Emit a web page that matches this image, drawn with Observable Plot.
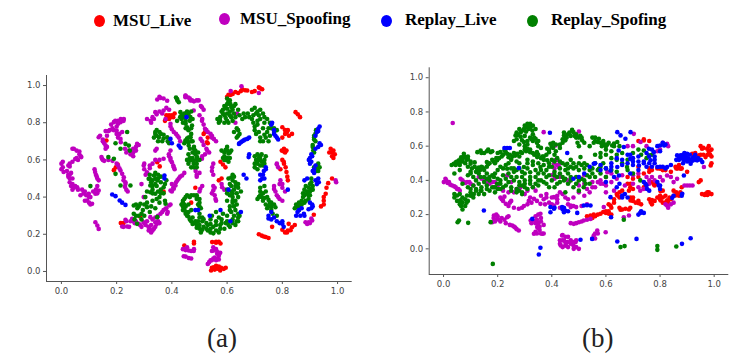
<!DOCTYPE html>
<html><head><meta charset="utf-8">
<script src="https://cdn.jsdelivr.net/npm/d3@7"></script>
<script src="https://cdn.jsdelivr.net/npm/@observablehq/plot@0.6"></script>
<style>
html,body{margin:0;padding:0;background:#fff;width:747px;height:364px;overflow:hidden}
.abs{position:absolute}
.lg{position:absolute;font:bold 17px "Liberation Serif",serif;color:#000;line-height:20px;white-space:nowrap}
.dot{position:absolute;width:11px;height:12px;border-radius:50%}
.cap{position:absolute;font:27px "Liberation Serif",serif;color:#222;line-height:30px}
</style></head><body>
<div id="root"></div>
<script>
const seriesNames = ["MSU_Live","MSU_Spoofing","Replay_Live","Replay_Spofing"];
const seriesColors = ["#ff0000","#bf00bf","#0000ff","#008000"];
const tickValues = [0,0.2,0.4,0.6,0.8,1];

const a_msuLive = [.6,.94,.613,.95,.63,.965,.64,.96,.655,.98,.665,.975,.673,.973,.69,.965,.715,.99,.727,.98,.385,.83,.39,.84,.395,.83,.4,.84,.39,.82,.38,.82,.163,.704,.19,.545,.197,.56,.204,.575,.347,.588,.356,.565,.848,.857,.856,.845,.864,.83,.817,.75,.8,.776,.824,.73,.81,.74,.806,.66,.798,.65,.815,.65,.806,.645,.98,.64,.985,.65,.98,.62,.99,.63,.975,.66,.8,.6,.806,.58,.812,.56,.815,.535,.818,.51,.793,.55,.98,.5,.966,.475,.957,.418,.95,.4,.95,.36,.94,.35,.576,.59,.585,.575,.594,.56,.57,.49,.58,.5,.52,.75,.527,.695,.515,.74,.485,.45,.715,.2,.725,.193,.733,.188,.75,.18,.8,.224,.817,.21,.835,.238,.823,.256,.83,.222,.914,.305,.763,.24,.546,.158,.56,.155,.576,.15,.445,.14,.48,.15,.48,.16,.552,.023,.57,.027,.588,.014,.542,.005,.555,.01,.565,.015,.578,.02,.285,.295,.215,.26,.225,.26,.37,.43,.47,.37,
.605,.95,.62,.955,.65,.97,.7,.97,.72,.985,.38,.84,.41,.85,.375,.81,.405,.83,.81,.76,.8,.72,.82,.76,.835,.74,.81,.64,.985,.61,.97,.64,.805,.59,.82,.49,.96,.45,.95,.38,.53,.69,.53,.72,.56,.16,.57,.16,.74,.185,.845,.25,.81,.21,.55,.015,.56,.03,.575,.005,.595,.02,.545,.02,.82,.22];
const a_msuSpoof = [0,.58,.005,.56,.03,.58,.025,.57,.04,.66,.055,.65,.065,.63,.07,.62,.06,.6,.05,.605,.02,.54,.035,.53,.03,.5,.04,.47,.035,.46,.12,.55,.125,.52,.13,.5,.145,.615,.15,.6,.2,.58,.214,.543,.226,.507,.232,.47,.057,.453,.075,.44,.069,.41,.085,.43,.099,.418,.123,.418,.135,.435,.093,.382,.111,.364,.105,.4,.123,.265,.13,.247,.135,.229,.214,.803,.19,.803,.226,.82,.2,.78,.205,.81,.16,.755,.175,.76,.2,.758,.214,.713,.135,.722,.16,.677,.15,.7,.22,.75,.274,.686,.256,.633,.244,.65,.26,.66,.147,.606,.232,.278,.22,.242,.238,.242,.256,.283,.28,.256,.298,.265,.27,.27,.316,.22,.335,.23,.325,.25,.322,.292,.34,.265,.35,.27,.359,.31,.377,.337,.39,.355,.383,.31,.395,.435,.413,.462,.298,.4,.29,.47,.232,.48,.359,.933,.347,.925,.449,.946,.46,.935,.473,.92,.383,.918,.34,.857,.323,.81,.335,.82,.37,.866,.395,.794,.407,.75,.425,.72,.377,.82,.34,.65,.389,.63,.4,.588,.407,.56,.395,.61,.298,.57,.31,.534,.33,.58,.32,.555,.37,.606,.437,.516,.42,.49,.407,.445,.449,.937,.467,.92,.497,.92,.509,.883,.479,.866,.509,.81,.52,.767,.54,.74,.552,.713,.504,.713,.528,.65,.509,.606,.486,.54,.636,.85,.63,.8,.546,.56,.55,.46,.55,.436,.558,.39,.582,.453,.503,.445,.49,.52,.652,.996,.613,.97,.715,.96,.8,.47,.77,.444,.785,.4,.793,.49,.78,.575,.993,.49,.896,.265,.908,.274,.884,.265,.461,.113,.449,.122,.479,.11,.443,.082,.461,.072,.552,.113,.564,.095,.54,.06,.564,.068,.55,.07,.535,.05,.55,.13,
.005,.59,0,.55,.008,.535,.03,.565,.04,.59,.045,.66,.065,.645,.072,.615,.055,.61,.025,.52,.03,.52,.03,.48,.04,.5,.045,.45,.025,.51,.04,.44,.05,.46,.06,.44,.08,.42,.09,.41,.1,.4,.085,.38,.1,.37,.105,.36,.115,.43,.125,.44,.13,.42,.13,.46,.122,.535,.128,.51,.135,.49,.155,.595,.17,.6,.185,.595,.205,.57,.21,.555,.22,.525,.225,.49,.23,.455,.235,.44,.24,.43,.225,.81,.215,.82,.205,.795,.195,.81,.18,.79,.185,.77,.17,.755,.19,.76,.21,.74,.2,.74,.215,.695,.205,.72,.165,.73,.15,.71,.14,.73,.155,.69,.165,.67,.16,.66,.26,.64,.27,.65,.27,.67,.28,.68,.25,.63,.26,.62,.235,.64,.23,.66,.235,.27,.225,.24,.245,.24,.25,.27,.26,.27,.265,.26,.285,.25,.29,.24,.3,.26,.31,.27,.305,.25,.315,.24,.32,.23,.33,.22,.325,.21,.34,.24,.345,.255,.355,.26,.33,.28,.34,.29,.35,.3,.365,.32,.37,.33,.38,.34,.385,.32,.395,.36,.4,.43,.405,.45,.4,.47,.415,.48,.425,.5,.43,.51,.445,.53,.355,.94,.37,.93,.365,.85,.355,.86,.345,.845,.33,.83,.325,.8,.31,.82,.38,.88,.39,.87,.395,.78,.4,.765,.415,.74,.42,.73,.43,.7,.345,.66,.395,.65,.39,.62,.395,.6,.405,.57,.41,.55,.3,.58,.3,.55,.305,.52,.32,.57,.34,.6,.355,.6,.45,.945,.465,.93,.48,.915,.49,.92,.505,.89,.515,.87,.5,.84,.51,.82,.515,.79,.525,.76,.53,.75,.545,.73,.545,.72,.56,.7,.51,.7,.515,.68,.525,.66,.535,.64,.52,.63,.51,.62,.5,.53,.49,.51,.545,.54,.55,.58,.55,.52,.555,.45,.545,.42,.555,.41,.56,.38,.59,.44,.58,.47,.51,.46,.5,.43,.79,.47,.8,.45,.81,.43,.77,.46,.775,.43,.78,.41,.79,.39,.8,.38,.78,.58,.785,.56,.995,.48,.89,.255,.9,.26,.905,.285,.47,.11,.455,.13,.44,.12,.45,.115,.48,.12,.45,.08,.47,.07,.545,.11,.56,.12,.565,.105,.57,.085,.555,.075,.545,.06,.56,.06,.53,.04,.57,.065,.575,.1];
const a_replayLive = [.453,.83,.4,.69,.425,.677,.431,.665,.395,.713,.373,.516,.373,.5,.184,.414,.196,.405,.211,.382,.232,.358,.22,.37,.485,.33,.643,.686,.65,.695,.66,.705,.673,.713,.68,.63,.678,.615,.763,.8,.77,.74,.775,.73,.733,.54,.74,.56,.727,.5,.72,.52,.93,.767,.925,.75,.935,.78,.93,.67,.94,.68,.908,.62,.896,.6,.905,.59,.915,.55,.92,.57,.932,.48,.925,.47,.89,.5,.75,.3,.76,.32,.78,.27,.77,.29,.8,.256,.855,.32,.865,.3,.878,.31,.908,.36,.905,.34,.537,.3,.576,.33,.612,.27,.65,.32,.495,.33,.82,.44,.605,.44,
.645,.69,.655,.7,.665,.71,.68,.72,.76,.79,.77,.76,.78,.72,.785,.71,.74,.55,.73,.52,.735,.5,.72,.49,.93,.755,.92,.73,.935,.69,.92,.66,.9,.61,.905,.63,.9,.58,.915,.53,.91,.54,.93,.5,.92,.49,.88,.49,.75,.285,.76,.28,.79,.26,.8,.27,.805,.24,.86,.33,.87,.34,.85,.3,.88,.3,.895,.335,.9,.37,.91,.35,.66,.52,.67,.5];
const a_replaySpoof = [.17,.615,.19,.606,.196,.525,.238,.75,.196,.69,.232,.686,.244,.677,.214,.66,.248,.65,.34,.75,.353,.722,.36,.74,.37,.715,.345,.73,.383,.722,.316,.498,.335,.516,.347,.49,.322,.462,.36,.51,.34,.47,.33,.44,.419,.928,.449,.838,.431,.857,.467,.83,.44,.83,.46,.85,.45,.81,.467,.722,.46,.695,.479,.66,.479,.597,.49,.579,.419,.81,.47,.74,.475,.7,.455,.715,.262,.355,.286,.364,.304,.4,.262,.31,.274,.256,.29,.31,.322,.426,.328,.462,.34,.418,.37,.453,.377,.364,.31,.346,.347,.292,.25,.462,.214,.462,.105,.459,.449,.704,.467,.722,.461,.677,.485,.65,.491,.615,.467,.597,.479,.579,.443,.83,.455,.776,.473,.785,.585,.87,.6,.9,.612,.9,.595,.88,.6,.85,.62,.87,.615,.83,.59,.84,.61,.86,.575,.81,.6,.81,.63,.9,.625,.75,.635,.77,.64,.73,.69,.87,.7,.88,.71,.86,.695,.84,.72,.82,.735,.8,.75,.77,.77,.75,.76,.79,.745,.75,.73,.77,.71,.79,.7,.78,.72,.72,.715,.75,.74,.72,.75,.7,.6,.65,.59,.62,.61,.61,.615,.65,.58,.65,.595,.6,.605,.59,.715,.6,.72,.62,.7,.58,.72,.57,.735,.58,.71,.55,.74,.62,.725,.59,.62,.49,.61,.47,.63,.46,.6,.44,.615,.43,.64,.45,.62,.4,.6,.38,.63,.38,.64,.4,.62,.37,.65,.43,.72,.41,.71,.39,.73,.38,.745,.4,.76,.37,.75,.35,.76,.33,.74,.36,.775,.345,.78,.3,.44,.38,.45,.4,.47,.41,.49,.4,.5,.37,.505,.34,.49,.39,.44,.35,.45,.32,.46,.36,.455,.3,.465,.28,.48,.26,.5,.25,.51,.29,.5,.31,.47,.33,.49,.235,.51,.225,.53,.22,.55,.205,.57,.21,.53,.25,.55,.24,.56,.27,.54,.28,.58,.26,.59,.23,.61,.24,.63,.25,.62,.28,.6,.3,.64,.29,.61,.35,.63,.33,.64,.31,.545,.3,.56,.32,.585,.31,.915,.71,.92,.74,.91,.68,.912,.65,.922,.76,.92,.56,.93,.58,.925,.54,.896,.45,.89,.43,.905,.48,.88,.44,.91,.46,.885,.38,.87,.36,.85,.36,.86,.33,.89,.42,.875,.4,.845,.34,.9,.41,.72,.45,.735,.46,.74,.43,
.59,.89,.605,.915,.615,.885,.625,.89,.6,.875,.585,.85,.575,.83,.58,.86,.595,.825,.61,.84,.625,.85,.64,.87,.605,.8,.62,.81,.63,.83,.59,.8,.57,.8,.565,.82,.6,.93,.61,.92,.68,.83,.69,.82,.705,.85,.715,.84,.72,.87,.73,.85,.735,.83,.745,.82,.755,.8,.76,.77,.77,.77,.78,.76,.71,.81,.695,.8,.7,.76,.705,.74,.72,.7,.73,.7,.735,.735,.755,.73,.645,.84,.655,.82,.66,.85,.665,.83,.675,.85,.64,.76,.645,.74,.635,.72,.6,.67,.59,.64,.605,.635,.595,.655,.61,.64,.585,.61,.6,.61,.59,.6,.7,.62,.71,.63,.725,.63,.705,.6,.735,.6,.72,.6,.71,.58,.73,.57,.7,.56,.715,.61,.62,.52,.615,.505,.605,.5,.625,.51,.615,.46,.6,.42,.61,.41,.625,.44,.635,.42,.62,.42,.63,.48,.64,.47,.72,.43,.73,.42,.715,.4,.725,.4,.735,.395,.75,.385,.76,.35,.755,.37,.77,.36,.765,.31,.745,.34,.44,.37,.445,.36,.435,.36,.445,.39,.455,.41,.465,.4,.48,.41,.49,.41,.5,.39,.495,.36,.5,.35,.445,.335,.45,.35,.44,.33,.45,.31,.46,.295,.47,.27,.475,.29,.46,.32,.475,.255,.49,.25,.485,.27,.495,.27,.51,.27,.515,.28,.5,.29,.5,.23,.515,.24,.525,.23,.54,.21,.54,.23,.56,.22,.575,.23,.56,.25,.575,.25,.58,.28,.57,.29,.595,.26,.6,.27,.605,.25,.62,.26,.635,.27,.64,.27,.625,.3,.615,.32,.61,.33,.625,.35,.635,.36,.62,.38,.645,.3,.54,.255,.525,.26,.505,.21,.435,.84,.445,.85,.455,.86,.46,.84,.475,.82,.465,.81,.45,.795,.44,.8,.435,.82,.47,.86,.43,.83,.42,.92,.425,.91,.415,.935,.45,.77,.46,.76,.47,.77,.34,.74,.345,.76,.355,.75,.35,.7,.365,.7,.37,.735,.385,.7,.39,.69,.335,.72,.455,.7,.445,.69,.46,.72,.47,.7,.48,.67,.465,.66,.475,.64,.485,.63,.49,.6,.475,.61,.46,.58,.47,.56,.48,.56,.465,.61,.49,.56,.5,.6,.455,.6,.495,.64,.46,.63,.32,.5,.33,.49,.34,.5,.35,.5,.325,.48,.33,.46,.345,.46,.36,.48,.35,.52,.34,.53,.32,.52,.33,.42,.35,.43,.36,.44,.375,.47,.38,.49,.36,.42,.355,.4,.31,.43,.37,.42,.345,.39,.33,.38,.31,.37,.3,.36,.28,.35,.27,.36,.275,.34,.295,.33,.28,.3,.29,.28,.265,.28,.27,.3,.325,.35,.34,.34,.32,.32,.3,.3,.355,.37,.375,.38,.915,.72,.92,.7,.91,.67,.915,.64,.915,.73,.925,.57,.935,.56,.915,.56,.93,.54,.925,.55,.9,.47,.905,.44,.895,.41,.88,.41,.875,.42,.87,.38,.86,.37,.85,.345,.86,.35,.88,.37,.895,.39,.91,.44,.905,.5,.9,.43,.885,.46];

const b_msuLive = [.955,.585,.974,.585,.98,.57,.985,.55,.944,.546,.968,.536,.95,.6,.919,.556,.857,.48,.865,.47,.876,.468,.987,.487,.99,.5,.943,.39,.95,.4,.691,.38,.778,.38,.74,.633,.8,.468,.81,.46,.968,.322,.98,.322,.975,.33,.99,.32,.864,.322,.87,.31,.802,.283,.81,.27,.765,.273,.77,.285,.826,.283,.835,.3,.79,.3,.721,.267,.654,.228,.672,.234,.685,.23,.611,.205,.6,.22,.58,.205,.59,.215,.543,.195,.555,.2,.617,.253,.691,.283,.7,.28,.642,.312,.65,.3,.685,.34,.777,.376,.802,.337,.857,.312,.85,.34,.72,.48,.76,.45,.9,.45,.88,.36,.63,.27,.74,.36,.68,.42,
.96,.59,.98,.6,.985,.575,.99,.58,.96,.55,.95,.55,.94,.53,.93,.56,.975,.55,.99,.54,.86,.47,.87,.49,.88,.47,.98,.33,.965,.315,.975,.315,.955,.32,.86,.33,.875,.33,.85,.31,.8,.29,.81,.3,.82,.27,.83,.27,.84,.29,.77,.26,.78,.28,.76,.29,.72,.28,.73,.26,.66,.23,.65,.24,.69,.24,.6,.21,.61,.22,.62,.2,.57,.2,.56,.19,.55,.18,.53,.19,.7,.35,.69,.36,.64,.32,.65,.33,.66,.34,.63,.29,.62,.24,.61,.26,.69,.3,.7,.3,.71,.27,.78,.37,.79,.38,.77,.39,.81,.34,.82,.31,.8,.31,.76,.47,.77,.46,.79,.47,.82,.46,.74,.44,.72,.42,.7,.41,.68,.38,.84,.45,.76,.63,.74,.64,.72,.63];
const b_msuSpoof = [.034,.735,.37,.682,.007,.409,.001,.39,.015,.385,.032,.37,.045,.36,.06,.34,.063,.409,.075,.39,.087,.39,.1,.38,.13,.42,.15,.4,.17,.38,.19,.39,.235,.429,.25,.39,.284,.36,.27,.35,.31,.34,.33,.36,.408,.497,.414,.604,.426,.478,.408,.439,.42,.52,.21,.3,.22,.28,.23,.263,.245,.27,.278,.234,.297,.25,.315,.28,.334,.292,.358,.263,.37,.29,.39,.27,.408,.302,.43,.33,.45,.3,.186,.195,.198,.175,.215,.18,.235,.185,.18,.156,.254,.136,.265,.125,.278,.107,.322,.166,.34,.19,.358,.205,.35,.15,.346,.127,.334,.088,.365,.088,.355,.11,.438,.078,.433,.02,.457,.039,.452,.02,.43,.05,.445,.049,.488,.04,.481,0,.45,.02,.47,.244,.408,.253,.49,.244,.47,.253,.481,.146,.5,.155,.518,.166,.543,.175,.555,.078,.568,.107,.599,.097,.592,.244,.666,.185,.685,.195,.727,.34,.826,.253,.9,.37,.5,.686,.703,.672,.728,.624,.826,.614,.8,.42,.826,.429,.863,.409,.605,.448,.494,.38,.463,.39,.74,.35,.962,.478,.58,.38,.62,.44,.52,.43,.55,.36,.75,.42,.7,.6,
.01,.4,.02,.39,.025,.375,.04,.365,.05,.35,.055,.35,.07,.4,.08,.385,.095,.39,.11,.37,.14,.41,.16,.39,.18,.39,.2,.37,.22,.34,.24,.33,.26,.33,.28,.35,.3,.32,.32,.3,.34,.34,.36,.31,.38,.32,.4,.3,.42,.31,.44,.32,.46,.29,.48,.3,.5,.33,.52,.31,.54,.33,.56,.36,.58,.4,.6,.42,.215,.29,.225,.305,.25,.28,.24,.25,.26,.24,.29,.24,.31,.26,.325,.27,.345,.28,.375,.26,.38,.3,.4,.26,.42,.29,.195,.2,.2,.19,.21,.16,.225,.17,.24,.19,.23,.15,.185,.18,.19,.16,.205,.17,.245,.14,.26,.13,.27,.115,.33,.165,.325,.15,.34,.15,.345,.17,.35,.2,.36,.18,.36,.16,.37,.14,.35,.12,.34,.1,.345,.09,.36,.09,.37,.09,.355,.13,.44,.08,.45,.07,.46,.07,.47,.05,.44,.05,.45,.04,.47,.03,.48,.02,.46,.01,.44,.01,.43,.03,.48,.04,.49,.01,.5,0,.49,.05,.47,.15,.49,.15,.51,.16,.53,.17,.56,.09,.57,.09,.55,.06,.56,.06,.46,.26,.48,.25,.51,.25,.42,.27,.43,.24,.53,.26,.6,.33,.63,.34,.67,.37,.7,.38,.72,.36,.76,.38,.78,.4,.81,.4,.84,.42,.85,.39,.82,.26,.83,.24,.84,.26,.85,.27,.89,.37,.91,.37,.92,.37,.75,.6,.8,.58,.81,.62,.83,.6,.79,.57,.77,.42,.6,.37,.59,.38,.57,.39,.62,.39,.64,.41,.66,.43,.7,.43,.72,.44,.42,.49,.43,.5,.415,.52,.41,.47,.4,.43,.41,.41,.43,.42,.46,.4,.5,.37,.52,.38,.53,.35,.55,.39,.76,.4,.68,.6];
const b_replayLive = [.876,.546,.89,.53,.9,.556,.925,.536,.888,.517,.913,.497,.937,.517,.906,.527,.956,.507,.863,.546,.9,.51,.88,.53,.92,.515,.642,.682,.654,.663,.691,.682,.672,.643,.666,.595,.647,.575,.69,.526,.7,.51,.722,.487,.759,.585,.777,.565,.8,.604,.815,.604,.765,.517,.74,.5,.79,.478,.826,.478,.81,.48,.555,.497,.58,.49,.617,.458,.642,.478,.648,.429,.752,.35,.8,.37,.888,.429,.235,.589,.225,.589,.245,.589,.393,.678,.278,.472,.457,.56,.149,.224,.328,.175,.352,-.033,.358,.006,.395,.244,.408,.234,.395,.214,.438,.244,.445,.214,.45,.224,.445,.24,.518,.253,.543,.253,.494,.21,.727,.21,.642,.043,.713,.058,.881,.029,.913,.062,.506,.053,.549,.058,.617,.302,.66,.312,.845,.298,.882,.322,.746,.38,.795,.37,.619,.185,.76,.34,.62,.5,.66,.52,.68,.55,.72,.54,.78,.52,
.87,.53,.885,.55,.895,.54,.91,.55,.9,.53,.93,.52,.94,.53,.95,.52,.885,.5,.91,.52,.92,.53,.93,.55,.87,.52,.86,.52,.89,.56,.69,.55,.7,.53,.72,.51,.74,.51,.76,.5,.78,.5,.8,.48,.82,.47,.84,.49,.75,.56,.77,.58,.79,.6,.81,.62,.82,.61,.8,.57,.78,.54,.76,.54,.66,.49,.68,.5,.7,.49,.64,.53,.62,.48,.6,.47,.58,.46,.56,.5,.54,.48,.52,.44,.5,.42,.48,.41,.6,.39,.63,.42,.65,.38,.69,.44,.72,.46,.75,.48,.77,.48,.64,.36,.66,.3,.67,.32,.68,.3,.41,.24,.44,.23,.46,.22,.53,.255,.73,.22,.72,.2,.74,.21,.75,.37,.74,.39,.79,.39,.8,.35,.85,.31,.88,.31];
const b_replaySpoof = [.32,.73,.31,.71,.297,.7,.285,.68,.266,.663,.27,.64,.328,.692,.34,.643,.33,.67,.32,.65,.297,.624,.137,.575,.15,.56,.174,.565,.08,.536,.07,.525,.057,.517,.038,.497,.06,.49,.1,.497,.124,.468,.16,.507,.198,.517,.21,.565,.235,.556,.255,.54,.272,.556,.31,.585,.33,.56,.346,.536,.383,.585,.395,.614,.445,.663,.45,.634,.43,.61,.415,.57,.297,.478,.32,.448,.31,.5,.28,.5,.358,.478,.35,.44,.383,.517,.365,.54,.235,.468,.26,.45,.22,.43,.186,.42,.16,.44,.198,.38,.18,.36,.21,.4,.137,.42,.12,.4,.063,.283,.05,.312,.07,.3,.087,.312,.112,.32,.137,.34,.15,.32,.186,.36,.16,.35,.278,.34,.29,.37,.3,.4,.32,.4,.34,.38,.057,.166,.052,.155,.091,.152,.174,.156,.182,-.088,.45,.653,.48,.682,.49,.65,.512,.634,.5,.6,.574,.643,.555,.62,.592,.614,.623,.604,.642,.624,.6,.58,.457,.497,.47,.52,.506,.536,.52,.5,.58,.536,.56,.55,.74,.575,.759,.546,.574,.468,.59,.5,.525,.38,.54,.42,.445,.4,.46,.44,.48,.47,.678,.478,.727,.4,.654,.01,.669,.016,.79,.016,.79,-.006,.86,.014,.666,.17,.518,.36,.45,.33,.5,.4,.41,.55,.39,.48,.41,.45,.38,.42,.24,.5,.22,.47,.1,.45,.14,.48,.04,.44,.06,.46,
.05,.51,.065,.535,.075,.54,.09,.54,.085,.52,.07,.51,.055,.5,.045,.49,.03,.49,.1,.51,.115,.48,.105,.47,.08,.5,.09,.48,.135,.46,.125,.45,.15,.46,.16,.48,.17,.5,.18,.52,.19,.5,.205,.53,.22,.55,.225,.575,.215,.54,.24,.535,.26,.56,.28,.54,.29,.56,.305,.57,.32,.58,.335,.55,.35,.55,.36,.53,.37,.52,.38,.55,.39,.58,.4,.6,.405,.62,.415,.61,.43,.59,.44,.62,.455,.65,.47,.66,.465,.68,.485,.66,.5,.65,.51,.65,.495,.62,.52,.62,.54,.6,.55,.65,.56,.63,.58,.62,.585,.6,.6,.6,.61,.62,.63,.6,.65,.6,.14,.56,.125,.565,.16,.57,.165,.58,.18,.57,.2,.56,.26,.63,.27,.68,.28,.7,.3,.72,.305,.685,.285,.655,.3,.66,.315,.7,.31,.73,.33,.72,.335,.65,.345,.62,.35,.6,.31,.61,.33,.63,.36,.59,.09,.43,.11,.42,.13,.44,.15,.42,.17,.42,.19,.44,.2,.46,.21,.48,.23,.49,.25,.47,.27,.46,.29,.45,.31,.47,.33,.49,.34,.46,.36,.46,.38,.46,.39,.5,.4,.52,.42,.53,.44,.5,.46,.47,.48,.5,.5,.5,.5,.46,.52,.47,.54,.46,.56,.5,.58,.48,.6,.47,.62,.46,.64,.45,.66,.5,.68,.46,.7,.44,.43,.44,.45,.46,.44,.42,.42,.42,.47,.42,.49,.42,.52,.4,.54,.38,.56,.42,.58,.44,.6,.42,.29,.42,.27,.42,.25,.42,.23,.41,.21,.38,.19,.36,.17,.4,.15,.39,.13,.38,.11,.37,.09,.36,.07,.38,.28,.39,.3,.36,.32,.38,.34,.42,.36,.4,.38,.38,.4,.4,.42,.38,.46,.38,.48,.36,.5,.34,.17,.34,.19,.33,.21,.35,.23,.37,.25,.36,.27,.33,.29,.32,.31,.35,.13,.32,.11,.3,.09,.28,.07,.27,.08,.25,.06,.26,.05,.28,.04,.3,.06,.32,.1,.33,.12,.34,.14,.36,.07,.23,.62,.53,.64,.55,.6,.55,.58,.56,.62,.57,.66,.56,.64,.52,.7,.56,.68,.52,.72,.58,.75,.53,.73,.55,.77,.55,
.075,.555,.09,.525,.06,.505,.045,.505,.115,.505,.13,.475,.145,.475,.165,.495,.185,.51,.195,.53,.23,.565,.245,.55,.265,.545,.285,.565,.3,.58,.32,.565,.345,.565,.37,.54,.39,.565,.405,.59,.44,.64,.46,.67,.475,.695,.49,.67,.505,.66,.445,.68,.56,.65,.57,.625,.59,.63,.605,.61,.63,.615,.275,.665,.29,.69,.305,.71,.32,.71,.34,.7,.325,.64,.31,.63,.29,.635,.35,.63,.3,.6,.28,.61,.1,.44,.12,.45,.16,.41,.18,.43,.2,.41,.24,.44,.26,.47,.28,.47,.3,.44,.32,.42,.35,.4,.37,.44,.39,.43,.41,.43,.43,.47,.45,.49,.47,.48,.49,.48,.51,.49,.53,.49,.55,.47,.57,.46,.16,.37,.14,.34,.12,.35,.1,.31,.08,.29,.1,.35,.06,.28,.04,.32,.065,.25,.085,.27,.2,.35,.22,.36,.24,.39,.26,.4,.28,.37,.3,.38,.33,.36,.35,.37,.37,.39,.39,.36,.41,.36,.43,.39,.45,.41,.47,.4,.49,.38,.51,.41,.53,.43,.55,.44,.29,.33,.27,.35,.25,.34,.4,.48,.41,.51,.43,.51,.35,.5,.37,.49,.33,.51,.31,.52,.27,.51,.25,.52];

const pairs = f => d3.range(0, f.length, 2).map(i => ({x: f[i], y: f[i+1]}));
const root = document.getElementById("root");
function addLegend(){
  const items = [[99,14.5,113,11],[224,12.5,240,9],[386,14.5,405,10],[532,14.5,551,10]];
  seriesNames.forEach((n,i)=>{
    const d=document.createElement("div");d.className="dot";d.style.left=(items[i][0]-5)+"px";d.style.top=items[i][1]+"px";d.style.background=seriesColors[i];root.appendChild(d);
    const t=document.createElement("div");t.className="lg";t.textContent=n;t.style.left=items[i][2]+"px";t.style.top=items[i][3]+"px";root.appendChild(t);
  });
}
function panel(cfg,sets){
  const marks=[
    Plot.ruleX([cfg.x[0]],{stroke:"#555",strokeWidth:1}),
    Plot.ruleY([cfg.y[0]],{stroke:"#555",strokeWidth:1}),
    Plot.axisX({ticks:tickValues,tickFormat:d3.format(".1f"),tickSize:3,tickPadding:3,stroke:"#555",color:"#444",fontSize:8.5,label:null,fontFamily:"DejaVu Sans"}),
    Plot.axisY({ticks:tickValues,tickFormat:d3.format(".1f"),tickSize:3,tickPadding:3,stroke:"#555",color:"#444",fontSize:8.5,label:null,fontFamily:"DejaVu Sans"})
  ];
  [0,1,3,2].forEach(i=>marks.push(Plot.dot(pairs(sets[i]),{x:"x",y:"y",r:cfg.r,fill:seriesColors[i],stroke:"none"})));
  const svg=Plot.plot({width:cfg.w,height:cfg.h,marginLeft:cfg.ml,marginRight:cfg.mr,marginTop:cfg.mt,marginBottom:cfg.mb,
    x:{domain:cfg.x},y:{domain:cfg.y},marks,style:{background:"transparent",overflow:"visible"}});
  svg.classList.add("abs");svg.style.left=cfg.left+"px";svg.style.top=cfg.top+"px";
  root.appendChild(svg);
}
addLegend();
panel({left:0,top:60,w:365,h:240,ml:46,mr:13.3,mt:15,mb:19,x:[-.054,1.053],y:[-.054,1.054],r:2.3},[a_msuLive,a_msuSpoof,a_replayLive,a_replaySpoof]);
panel({left:385,top:55,w:362,h:245,ml:43.7,mr:18.7,mt:12.3,mb:26,x:[-.053,1.054],y:[-.15,1.058],r:2.3},[b_msuLive,b_msuSpoof,b_replayLive,b_replaySpoof]);
[["(a)",207],["(b)",582]].forEach(([t,x])=>{const c=document.createElement("div");c.className="cap";c.textContent=t;c.style.left=x+"px";c.style.top="323px";root.appendChild(c);});
</script>
</body></html>
